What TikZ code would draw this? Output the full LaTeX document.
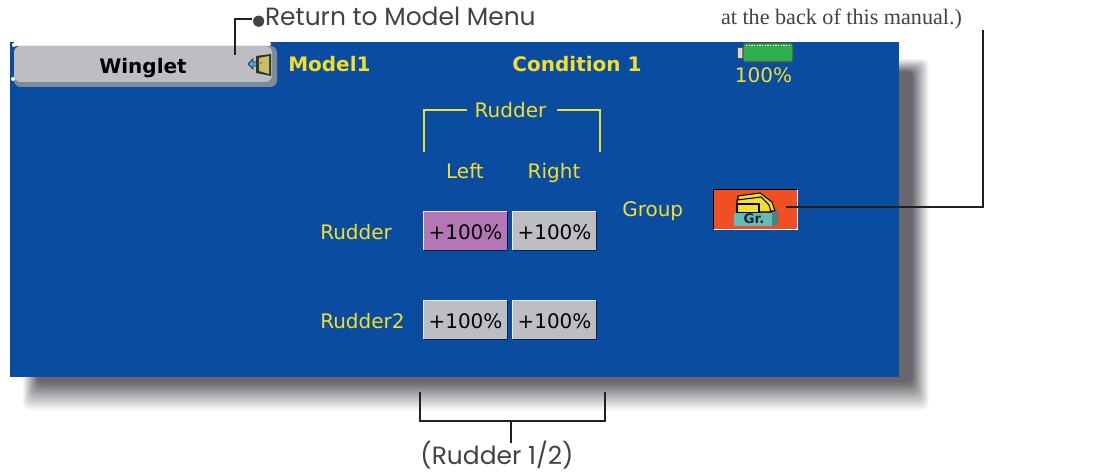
\documentclass[tikz,border=0pt]{standalone}
\usepackage{fontspec}
\setmainfont{DejaVu Sans}
\newfontfamily\gothicfont{Poppins}
\newfontfamily\manualfont{Liberation Serif}
\usetikzlibrary{calc}
\definecolor{panelblue}{HTML}{0A4DA0}
\definecolor{shadowgray}{HTML}{605E62}
\definecolor{btngray}{HTML}{BDBDC4}
\definecolor{btnpurple}{HTML}{B577B3}
\definecolor{tabedge}{HTML}{7F8A96}
\definecolor{scryellow}{HTML}{F2DE2B}
\definecolor{grpred}{HTML}{F04E23}
\definecolor{grpteal}{HTML}{62BDB8}
\definecolor{battgreen}{HTML}{2FAE4E}
\definecolor{leader}{HTML}{231F20}
\tikzset{
    scrtext/.style = {text=scryellow, inner sep=0pt, font=\fontsize{15}{18}\selectfont},
    scrbold/.style = {scrtext, font=\fontsize{15}{18}\selectfont\bfseries},
    notetext/.style = {text=leader!85!white, inner sep=0pt, font=\gothicfont\fontsize{18.7}{21}\selectfont},
    btn/.style = {fill=#1, minimum width=62.25pt, minimum height=28.5pt, inner sep=0pt,
        text height=13.5pt, text depth=0pt, text=black, font=\fontsize{15}{18}\selectfont},
    yline/.style = {draw=scryellow, line width=1.7pt},
    leadline/.style = {draw=leader, line width=2pt},
    pics/door/.style = {
        code = {%
        \fill[cyan!60!grpteal,draw=black!80,line width=.6pt] (0,4)--(5,-1)--(5,2)--(10,2)--(10,6)--(5,6)--(5,9)--cycle;
        \fill[black!80] (8,-4)--(23,-6)--(23,16)--(8,13)--cycle;
        \fill[olive!50!white] (11,-2)--(21,-4)--(21,14)--(11,11)--cycle;
        \fill[black!70] (13,3) circle[radius=.9];
        }
    },
    pics/folder/.style = {
        code = {%
        \fill[scryellow,draw=black,line width=.8pt] (4,3)--(26,0)--(38,9)--(41,18)--(4,18)--cycle;
        \fill[scryellow,draw=black,line width=.8pt] (3,7)--(27,4)--(35,12)--(37,19)--(3,19)--cycle;
        \fill[scryellow,draw=black,line width=.8pt] (3,11)--(25,11)--(25,20)--(3,20)--cycle;
        \fill[grpteal!70!black] (38,20)--(44,17)--(44,31)--(38,33)--cycle;
        \fill[grpteal] (0,20)--(38,20)--(38,33)--(0,33)--cycle;
        }
    },
}
\begin{document}
\begin{tikzpicture}[x=.75pt,y=-.75pt]
\useasboundingbox (0,0) rectangle (1093,473);

\foreach \i in {0,...,39}{
    \pgfmathsetmacro{\t}{(1-0.93^(\i+1))/0.945}
    \fill[shadowgray,opacity=.07,rounded corners=4pt]
        ({22+16*\t},{58+14*\t}) rectangle ({930-18*\t},{412-30*\t});
}

\fill[panelblue] (10,42) rectangle (899,377);

\fill[white] (14,42) rectangle (269,46);
\fill[tabedge,rounded corners=5pt] (14,46) rectangle (277,87);
\fill[btngray,rounded corners=5pt] (14,46) rectangle (272,82);
\fill[white] (14,45) circle[radius=2];
\fill[white] (269,44) circle[radius=2];
\fill[white] (13,79) circle[radius=2];
\node[scrbold,text=black,anchor=base] (tabname) at (143,74) {Winglet};
\pic at (248,60) {door};

\node[scrbold,anchor=base west] (model) at (288,72) {Model1};
\node[scrbold,anchor=base] (cond) at (577,72) {Condition 1};

\fill[black!15,draw=black!70,line width=.6pt] (737,47) rectangle (744,58);
\fill[battgreen,draw=black!70,line width=.8pt,rounded corners=2pt] (743,43) rectangle (793,62);
\draw[white,densely dotted,line width=1pt] (746,45.5) -- (791,45.5);
\node[scrtext,anchor=base] (battpct) at (763.5,83) {100\%};

\node[scrtext,anchor=base] (rudtitle) at (510.5,118) {Rudder};
\coordinate (brL1) at (467,110);
\coordinate (brL2) at (424,110);
\coordinate (brL3) at (424,152);
\coordinate (brR1) at (557,110);
\coordinate (brR2) at (600,110);
\coordinate (brR3) at (600,152);
\draw[yline] (brL1) -- (brL2) -- (brL3);
\draw[yline] (brR1) -- (brR2) -- (brR3);

\node[scrtext,anchor=base] (left) at (465,179) {Left};
\node[scrtext,anchor=base] (right) at (554,179) {Right};
\node[scrtext,anchor=base west] (rud1) at (320,240) {Rudder};
\node[scrtext,anchor=base west] (rud2) at (320,329) {Rudder2};
\node[scrtext,anchor=base west] (group) at (622,217) {Group};

\node[btn=btnpurple] (b1) at (465.5,231) {+100\%};
\node[btn=btngray] (b2) at (554.5,231) {+100\%};
\node[btn=btngray] (b3) at (465.5,320) {+100\%};
\node[btn=btngray] (b4) at (554.5,320) {+100\%};
\foreach \b in {b1,b2,b3,b4}{
    \draw[white!75!btngray,line width=.9pt] (\b.south west) -- (\b.north west) -- (\b.north east);
    \draw[black!25!panelblue!60!black,line width=.9pt] (\b.south west) -- (\b.south east) -- (\b.north east);
}

\node[fill=grpred,minimum width=62.25pt,minimum height=29.25pt,inner sep=0pt] (grbtn) at (755.5,209.5) {};
\draw[black,line width=1pt] (grbtn.south west) -- (grbtn.north west) -- (grbtn.north east);
\draw[white,line width=1pt] (grbtn.south west) -- (grbtn.south east) -- (grbtn.north east);
\pic at (734,193) {folder};
\node[scrbold,text=black!85,anchor=base,font=\fontsize{10}{12}\selectfont\bfseries] (grtext) at (754,224) {Gr.};

\node[notetext,anchor=base west] (retmenu) at (252,26) {{\fontspec{DejaVu Sans}\fontsize{11}{12}\selectfont ●}Return to Model Menu};
\coordinate (retdrop) at (235,55);
\coordinate (retelbow) at (235,19);
\coordinate (rettip) at (252,19);
\draw[leadline] (retdrop) -- (retelbow) -- (rettip);

\node[text=leader!85!white,inner sep=0pt,anchor=base,font=\manualfont\fontsize{16.6}{19}\selectfont] (backnote) at (841.5,25) {at the back of this manual.)};
\coordinate (grtip) at (786,207);
\coordinate (grelbow) at (983,207);
\coordinate (grtop) at (983,30);
\draw[leadline] (grtip) -- (grelbow) -- (grtop);

\node[notetext,anchor=base] (rudnote) at (497,465) {(Rudder 1/2)};
\coordinate (brkL) at (420,392);
\coordinate (brkLb) at (420,421);
\coordinate (brkRb) at (605,421);
\coordinate (brkR) at (605,392);
\coordinate (stemtop) at (511,421);
\coordinate (stembot) at (511,443);
\draw[leadline] (brkL) -- (brkLb) -- (brkRb) -- (brkR);
\draw[leadline] (stemtop) -- (stembot);

\end{tikzpicture}
\end{document}
